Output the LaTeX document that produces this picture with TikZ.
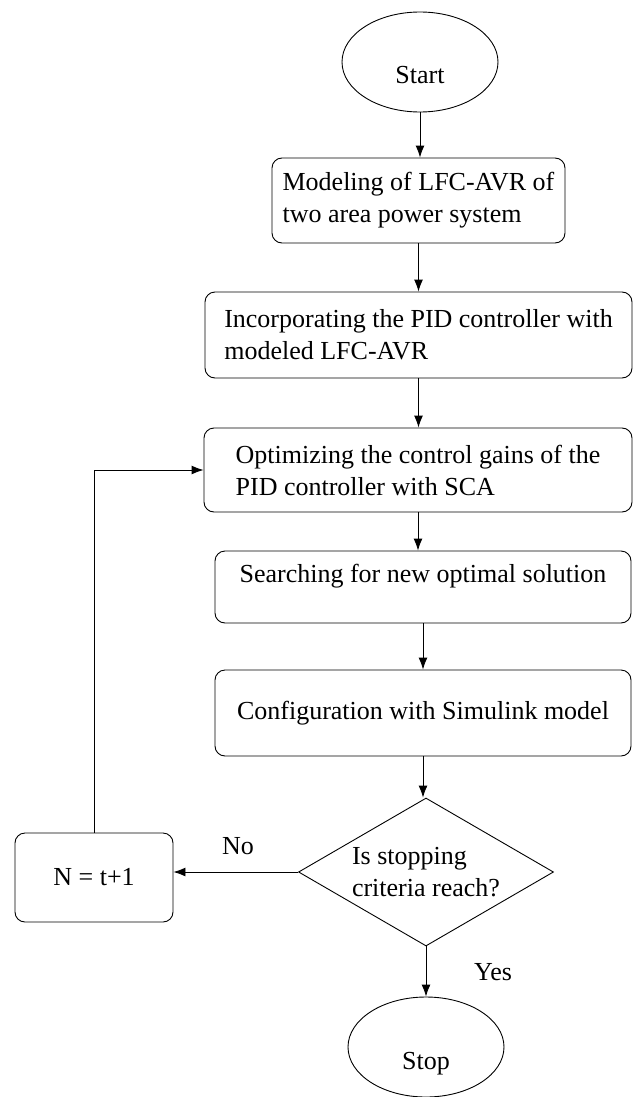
\documentclass[tikz,border=0pt]{standalone}
\usepackage{fontspec}
\setmainfont{Liberation Serif}
\usetikzlibrary{arrows,arrows.meta,shapes}

\begin{document}
\begin{tikzpicture}[x=1pt,y=-1pt,line width=0.9pt,>={Latex[length=12pt,width=9pt]},
    every node/.style={font=\fontsize{26}{32}\selectfont},
    terminal/.style={draw,ellipse,minimum width=156pt,minimum height=100pt,text height=50pt,text depth=6pt},
    process/.style={draw,rounded corners=10pt,align=left}]
    \useasboundingbox (0,0) rectangle (632,1097);
    \node[terminal] (start) at (420,62) {Start};
    \node[process,minimum width=293pt,minimum height=85pt] (model) at (418.5,200.5)
      {Modeling of LFC-AVR of\\two area power system};
    \node[process,minimum width=427pt,minimum height=86pt] (pid) at (418.5,335)
      {Incorporating the PID controller with\\modeled LFC-AVR};
    \node[process,minimum width=428pt,minimum height=84pt] (optim) at (418,470)
      {Optimizing the control gains of the\\PID controller with SCA};
    \node[process,minimum width=416pt,text height=31pt,text depth=41pt,inner ysep=0pt] (search) at (423,587)
      {Searching for new optimal solution};
    \node[process,minimum width=416pt,minimum height=86pt] (config) at (423,713)
      {Configuration with Simulink model};
    \node[draw,diamond,aspect=1.72,minimum width=255pt,minimum height=148pt,inner sep=0pt,align=left] (check) at (426,872)
      {Is stopping\\criteria reach?};
    \node[process,minimum width=158pt,minimum height=89pt] (update) at (94,877.5) {N = t+1};
    \node[terminal] (stop) at (426,1047) {Stop};
    % flow
    \draw[->] (start) -- (start |- model.north);
    \draw[->] (model) -- (model |- pid.north);
    \draw[->] (pid) -- (pid |- optim.north);
    \draw[->] (optim) -- (optim |- search.north);
    \draw[->] (search) -- (search |- config.north);
    \draw[->] (config) -- (config |- check.north);
    \draw[->] (check.south) -- (stop.north);
    \draw[->] (check.west) -- (check.west -| update.east);
    \draw[->] (update.north) |- (optim.west);
    \node (no) at (238,846) {No};
    \node (yes) at (493,972) {Yes};
  \end{tikzpicture}
\end{document}
